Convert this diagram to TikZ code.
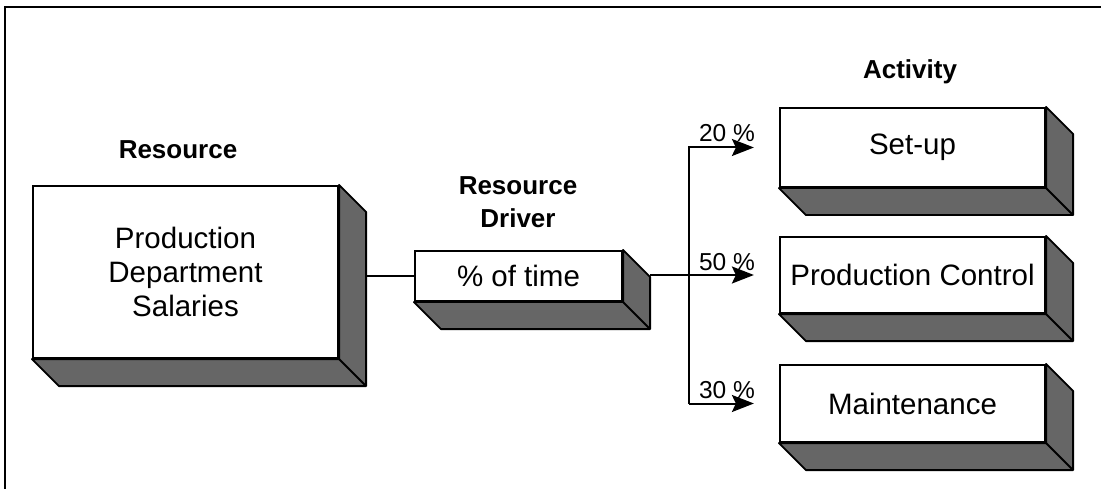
\documentclass[tikz,border=0pt]{standalone}
\usepackage{fontspec}
\setmainfont{Liberation Sans}
\usetikzlibrary{arrows.meta}
\tikzset{
  front/.style={draw=black, line width=2.2pt, fill=white, inner sep=0pt, align=center,
    font=\fontsize{29.5}{34}\selectfont},
  depth/.style={draw=black, line width=1.8pt, fill=black!60, line join=round},
  title/.style={font=\fontsize{26}{33}\selectfont\bfseries, align=center, inner sep=0pt},
  pct/.style={font=\fontsize{24.5}{28}\selectfont, inner sep=0pt},
  conn/.style={draw=black, line width=2pt},
  arr/.style={conn, -{Stealth[length=22pt, width=17pt, inset=4pt]}},
}
\newcommand{\extrude}[2]{%
  \draw[depth] (#1.north east) -- ++(#2,#2) -- ([shift={(#2,#2)}]#1.south east)
     -- ([shift={(#2,#2)}]#1.south west) -- (#1.south west) -- (#1.south east) -- cycle;
  \draw[depth] (#1.south east) -- ++(#2,#2);
}
\begin{document}
\begin{tikzpicture}[x=1pt, y=-1pt]
\path[use as bounding box, fill=white] (0,0) rectangle (1101,489);
\draw[line width=2pt] (5,489) -- (5,7) -- (1101,7);

% titles
\node[title] (tres) at (178,150) {Resource};
\node[title] (tdrv) at (518,202) {Resource\\Driver};
\node[title] (tact) at (910,72) {Activity};

% boxes
\node[front, minimum width=305pt, minimum height=172pt] (big) at (185.5,272) {Production\\Department\\Salaries};
\node[front, minimum width=207pt, minimum height=50pt] (drv) at (518.5,276) {\% of time};
\node[front, minimum width=265pt, minimum height=79pt] (setup) at (912.5,147.5) {Set-up};
\node[front, minimum width=265pt, minimum height=76pt] (pc) at (912.5,275) {Production Control};
\node[front, minimum width=265pt, minimum height=77pt] (mt) at (912.5,403.5) {Maintenance};

\extrude{big}{27}
\extrude{drv}{27}
\extrude{setup}{27}
\extrude{pc}{27}
\extrude{mt}{27}

% connectors
\coordinate (b1) at ([xshift=-90pt]setup.west);
\coordinate (b3) at ([xshift=-90pt]mt.west);
\draw[conn] ([xshift=27pt]big.east |- drv.west) -- (drv.west);
\draw[arr] ([xshift=27pt]drv.east |- pc.west) -- ([xshift=-25pt]pc.west);
\draw[arr] (b3) -- (b1) -- ([xshift=-25pt]setup.west);
\draw[arr] (b3) -- ([xshift=-25pt]mt.west);

% percentages
\node[pct] (p20) at (727,133) {20 \%};
\node[pct] (p50) at (727,262) {50 \%};
\node[pct] (p30) at (727,390) {30 \%};
\end{tikzpicture}
\end{document}
